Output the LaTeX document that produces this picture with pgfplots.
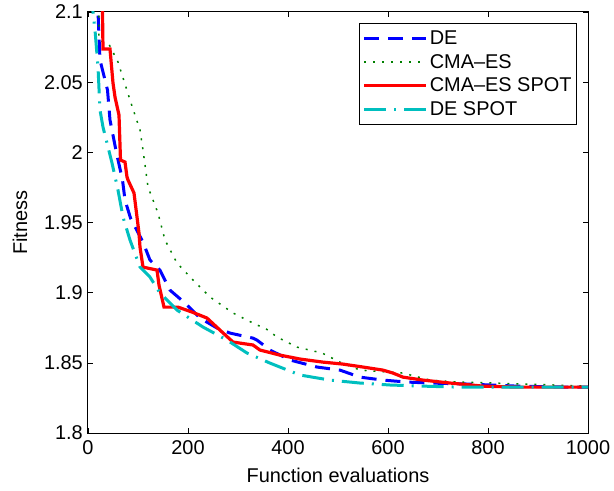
\documentclass[border=0pt]{standalone}
\usepackage{pgfplots}
\pgfplotsset{compat=1.18}
\usepackage{fontspec}
\setmainfont{Liberation Sans}

\definecolor{deblue}{rgb}{0,0,1}
\definecolor{cmagreen}{rgb}{0,0.5,0}
\definecolor{cmared}{rgb}{1,0,0}
\definecolor{decyan}{rgb}{0,0.75,0.75}

\begin{document}
\begin{tikzpicture}
\begin{axis}[
  scale only axis,
  width=500bp, height=421bp,
  xmin=0, xmax=1000, ymin=1.8, ymax=2.1,
  xtick={0,200,...,1000},
  ytick={1.8,1.85,1.9,1.95,2,2.05,2.1},
  yticklabels={1.8,1.85,1.9,1.95,2,2.05,2.1},
  xticklabels={0,200,400,600,800,1000},
  tick align=inside,
  major tick length=5bp,
  tick style={black, line width=0.6bp},
  axis line style={black, line width=1bp},
  every tick label/.append style={font=\fontsize{20}{24}\selectfont, inner sep=2bp},
  xticklabel style={yshift=-5bp},
  yticklabel style={xshift=-3bp},
  xlabel={Function evaluations},
  ylabel={Fitness},
  label style={font=\fontsize{20}{24}\selectfont},
  xlabel style={at={(axis description cs:0.5,-0.0998)}, anchor=center},
  ylabel style={at={(axis description cs:-0.136,0.5)}, anchor=center},
  legend cell align=left,
  legend style={at={(0.978,0.974)}, anchor=north east, draw=black, line width=1bp,
    font=\fontsize{20}{24}\selectfont, row sep=4.5bp, inner xsep=3bp, inner ysep=5bp},
  legend image code/.code={\draw[#1] (0bp,0bp) -- (62bp,0bp);},
  clip=true,
]
\coordinate (LL) at (rel axis cs:0,0);
\coordinate (UR) at (rel axis cs:1,1);
% DE
\addplot[deblue, line width=3bp, dash pattern=on 15bp off 9bp] coordinates {
(19,2.2) (20,2.1) (24,2.0658) (39,2.0444) (44,2.023) (57,1.9995) (69,1.9803)
(74,1.966) (85,1.9532) (110,1.936) (124,1.9232) (144,1.916) (164,1.9018)
(194,1.8926) (224,1.8819) (258,1.8748) (284,1.8712) (330,1.8676) (338,1.8662)
(364,1.8591) (404,1.852) (458,1.847) (504,1.8448) (544,1.8398) (590,1.8377)
(638,1.8363) (684,1.8356) (758,1.8349) (858,1.8334) (958,1.8327) (1000,1.8327)
};
\addlegendentry{DE}
% CMA-ES
\addplot[cmagreen, line width=1.5bp, dash pattern=on 2bp off 7bp] coordinates {
(20,2.2) (22,2.08) (42,2.077) (60,2.0644) (84,2.0373) (104,2.0159) (110,2.0016)
(120,1.9753) (140,1.9567) (154,1.9375) (178,1.9211) (210,1.909) (244,1.8969)
(290,1.8855) (338,1.8769) (354,1.8748) (378,1.8684) (418,1.8612) (468,1.857)
(504,1.8505) (544,1.8448) (630,1.8427) (684,1.8377) (738,1.8363) (810,1.8356)
(1000,1.8334)
};
\addlegendentry{CMA--ES}
% CMA-ES SPOT
\addplot[cmared, line width=3.2bp] coordinates {
(27,2.2) (29,2.1) (30,2.0736) (44,2.0736) (50,2.0494) (54,2.0394) (62,2.0266)
(65,1.9945) (74,1.9931) (78,1.9824) (80,1.9803) (92,1.971) (102,1.9425)
(104,1.9325) (110,1.9182) (138,1.9161) (142,1.9054) (152,1.8897) (180,1.8897)
(208,1.8862) (238,1.8819) (264,1.8733) (290,1.8648) (330,1.8627) (344,1.8591)
(384,1.8555) (424,1.8527) (470,1.8505) (510,1.8491) (550,1.847) (590,1.8448)
(610,1.8427) (630,1.8398) (670,1.8377) (724,1.8356) (790,1.8334) (858,1.8327)
(1000,1.8327)
};
\addlegendentry{CMA--ES SPOT}
% DE SPOT
\addplot[decyan, line width=3bp, dash pattern=on 22bp off 8bp on 2bp off 8bp] coordinates {
(8,2.2) (10,2.1) (14,2.0872) (20,2.0608) (24,2.0301) (30,2.018) (48,1.9924)
(60,1.9731) (70,1.9539) (84,1.9375) (104,1.9182) (124,1.9111) (144,1.8997)
(178,1.8876) (230,1.8755) (278,1.8662) (318,1.857) (364,1.8498) (424,1.8413)
(484,1.8377) (544,1.8356) (604,1.8342) (670,1.8334) (738,1.8327) (1000,1.8327)
};
\addlegendentry{DE SPOT}
\end{axis}
\path ([shift={(-88bp,-58bp)}]LL) rectangle ([shift={(26bp,12bp)}]UR);
\end{tikzpicture}
\end{document}
